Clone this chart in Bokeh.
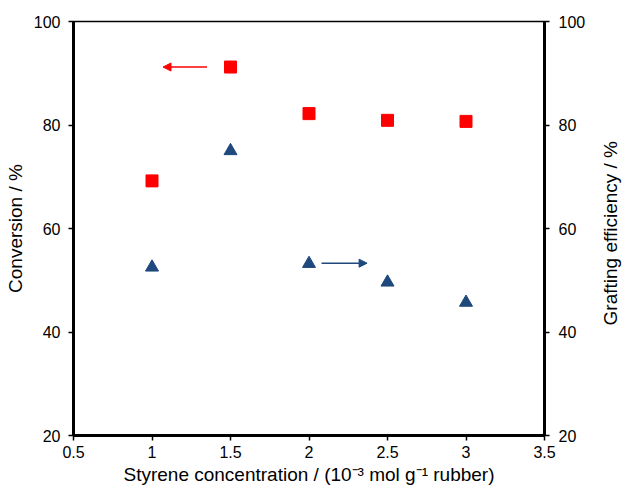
from bokeh.plotting import figure
from bokeh.models import LinearAxis, Range1d, FixedTicker, Arrow, NormalHead, Div
from bokeh.layouts import row
from bokeh.embed import file_html
from bokeh.resources import INLINE

# ---- data ----
styrene = [1.0, 1.5, 2.0, 2.5, 3.0]
conversion = [69.2, 91.2, 82.2, 80.9, 80.7]
grafting = [52.5, 75.0, 53.2, 49.6, 45.7]

x_ticks = [0.5, 1.0, 1.5, 2.0, 2.5, 3.0, 3.5]
x_tick_labels = ["0.5", "1", "1.5", "2", "2.5", "3", "3.5"]
y_ticks = [20, 40, 60, 80, 100]

# arrow annotations (data units): pointing to the axis each series belongs to
red_arrow = dict(x_start=1.35, x_end=1.07, y=91.2)
blue_arrow = dict(x_start=2.08, x_end=2.37, y=53.3)

RED = "#FF0000"
BLUE = "#1F497D"
FONT = "Liberation Sans"

H = 487
TOP = 21
BOTTOM = 51

p = figure(width=592, height=H, output_backend="svg", toolbar_location=None,
           x_range=Range1d(0.5, 3.5), y_range=Range1d(20, 100),
           min_border_left=73, min_border_top=TOP, min_border_right=48, min_border_bottom=BOTTOM)
p.extra_y_ranges = {"right": Range1d(20, 100)}

p.grid.visible = False
p.background_fill_color = "white"
p.border_fill_color = "white"
p.outline_line_color = "black"
p.outline_line_width = 1.5

# x axis
xa = p.xaxis[0]
xa.ticker = FixedTicker(ticks=x_ticks)
xa.major_label_overrides = {t: l for t, l in zip(x_ticks, x_tick_labels)}
xa.axis_label = "Styrene concentration / (10\u207b\u00b3 mol g\u207b\u00b9 rubber)"

# left y axis
ya = p.yaxis[0]
ya.ticker = FixedTicker(ticks=y_ticks)
ya.axis_label = "Conversion / %"

# right y axis (its title is placed beside the figure so it reads bottom-to-top)
yr = LinearAxis(y_range_name="right", ticker=FixedTicker(ticks=y_ticks))
p.add_layout(yr, "right")

for ax in [xa, ya, yr]:
    ax.axis_line_width = 3
    ax.axis_line_color = "black"
    ax.major_tick_out = 5
    ax.major_tick_in = 0
    ax.major_tick_line_width = 1.5
    ax.minor_tick_out = 0
    ax.minor_tick_in = 0
    ax.major_label_text_font = FONT
    ax.major_label_text_font_size = "16px"
    ax.major_label_text_color = "black"
    ax.axis_label_text_font = FONT
    ax.axis_label_text_font_size = "19px"
    ax.axis_label_text_font_style = "normal"
    ax.axis_label_text_color = "black"

ya.major_label_standoff = 8
yr.major_label_standoff = 9
xa.major_label_standoff = 5
xa.axis_label_standoff = 3
ya.axis_label_standoff = 5

p.scatter(styrene, conversion, marker="square", size=12, color=RED)
p.scatter(styrene, grafting, marker="triangle", size=13, color=BLUE, y_range_name="right")

p.add_layout(Arrow(end=NormalHead(size=8, fill_color=RED, line_color=RED),
                   x_start=red_arrow["x_start"], y_start=red_arrow["y"],
                   x_end=red_arrow["x_end"], y_end=red_arrow["y"],
                   line_color=RED, line_width=1.5))
p.add_layout(Arrow(end=NormalHead(size=8, fill_color=BLUE, line_color=BLUE),
                   x_start=blue_arrow["x_start"], y_start=blue_arrow["y"],
                   x_end=blue_arrow["x_end"], y_end=blue_arrow["y"],
                   line_color=BLUE, line_width=1.5))

frame_h = H - TOP - BOTTOM
right_title = Div(
    width=18, height=H,
    styles={"overflow": "visible"},
    text=(f'<div style="margin-top:{TOP}px;height:{frame_h}px;display:flex;'
          'align-items:center;justify-content:center;overflow:visible;">'
          '<span style="writing-mode:vertical-rl;transform:rotate(180deg);'
          "font-family:'Liberation Sans';font-size:19px;color:black;white-space:nowrap;\">"
          'Grafting efficiency / %</span></div>'),
)

layout = row(p, right_title, spacing=0)
open("out.html", "w").write(file_html(layout, INLINE))
